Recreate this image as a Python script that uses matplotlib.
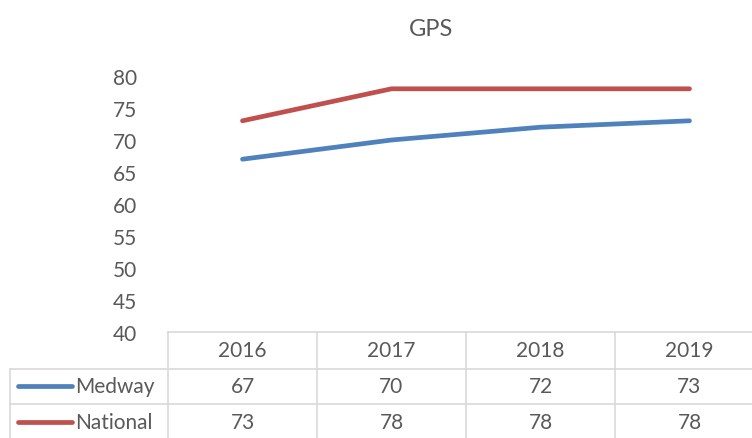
import matplotlib
matplotlib.use("Agg")
import matplotlib.pyplot as plt
from matplotlib.transforms import blended_transform_factory

years = ["2016", "2017", "2018", "2019"]
series_names = ["Medway", "National"]
medway = [67, 70, 72, 73]
national = [73, 78, 78, 78]
yticks = [40, 45, 50, 55, 60, 65, 70, 75, 80]

colors = ["#4F81BD", "#C0504D"]
text_color = "#595959"
grid_color = "#D9D9D9"
font = "Lato"
fs = 15

W, H = 752, 439
fig = plt.figure(figsize=(W / 100, H / 100), dpi=100)

# plot area in pixel terms (top-left origin)
px_left, px_right = 168, 764
px_top, px_bottom = 77, 333
ax = fig.add_axes([px_left / W, (H - px_bottom) / H,
                   (px_right - px_left) / W, (px_bottom - px_top) / H])

x = list(range(len(years)))
for vals, c in zip([medway, national], colors):
    ax.plot(x, vals, color=c, lw=3.4, solid_capstyle="round", solid_joinstyle="round")

ax.set_xlim(-0.5, len(years) - 0.5)
ax.set_ylim(40, 80)
ax.set_yticks(yticks)
ax.set_yticklabels([str(v) for v in yticks], fontsize=fs, color=text_color, family=font)
ax.tick_params(axis="y", length=0, pad=22)
ax.set_xticks([])
for s in ax.spines.values():
    s.set_visible(False)
ax.patch.set_alpha(0)

fig.text(431 / W, 1 - 30 / H, "GPS", ha="center", va="center",
         fontsize=17, color=text_color, family=font)

# overlay for the data table, pixel coordinates
ov = fig.add_axes([0, 0, 1, 1], zorder=-1)
ov.set_xlim(0, W)
ov.set_ylim(H, 0)
ov.axis("off")
tr = blended_transform_factory(ax.transData, ov.transData)

row_y = [333, 370, 405, 441]
lbl_left = 10
line_kw = dict(color=grid_color, lw=1.2, clip_on=False)

# horizontal rules
ov.plot([px_left, W + 20], [row_y[0]] * 2, **line_kw)
for yy in row_y[1:]:
    ov.plot([lbl_left, W + 20], [yy] * 2, **line_kw)
# vertical rules
for i in range(len(years) + 1):
    ov.plot([i - 0.5, i - 0.5], [row_y[0], row_y[-1]], transform=tr, **line_kw)
ov.plot([lbl_left, lbl_left], [row_y[1], row_y[-1]], **line_kw)

# header
for i, yr in enumerate(years):
    ov.text(i, (row_y[0] + row_y[1]) / 2, yr, transform=tr, ha="center", va="center",
            fontsize=fs, color=text_color, family=font)

# series rows
for r, (name, vals, c) in enumerate(zip(series_names, [medway, national], colors)):
    yc = (row_y[r + 1] + row_y[r + 2]) / 2
    ov.plot([18, 72], [yc, yc], color=c, lw=3.4, solid_capstyle="round")
    ov.text(75, yc, name, ha="left", va="center", fontsize=fs, color=text_color, family=font)
    for i, v in enumerate(vals):
        ov.text(i, yc, str(v), transform=tr, ha="center", va="center",
                fontsize=fs, color=text_color, family=font)

fig.savefig("out.png", dpi=100)
